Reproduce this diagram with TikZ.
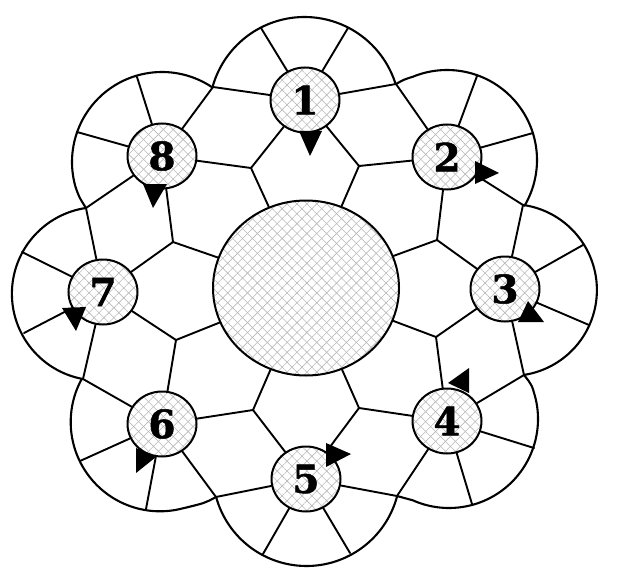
\documentclass[tikz,border=0pt]{standalone}
\usepackage{fontspec}
\newfontfamily\digitfont[BoldFont={DejaVu Serif Bold},BoldFeatures={FakeBold=1.3}]{DejaVu Serif}
\usetikzlibrary{patterns.meta,shapes.geometric}
\tikzset{
  hatched/.style={ellipse,draw=black,inner sep=0pt,line width=2pt,
    preaction={pattern={Lines[angle=45,distance=7pt,line width=.6pt]},pattern color=black!28},
    preaction={pattern={Lines[angle=-45,distance=7pt,line width=.6pt]},pattern color=black!28}},
  stationnode/.style={hatched,minimum width=69pt,minimum height=65pt,font=\fontsize{39}{39}\digitfont\bfseries},
  hubnode/.style={hatched,minimum width=186pt,minimum height=175pt},
  wire/.style={draw=black,line width=1.9pt,line join=round,line cap=round},
  rim/.style={wire,line width=2.1pt,samples=70},
  marker/.style={fill=black}
}
\begin{document}
\begin{tikzpicture}[x=1pt,y=-1pt]
\useasboundingbox (0,0) rectangle (620,580);
% inner junctions
\coordinate (a12) at (359,166); \coordinate (a23) at (437,240);
\coordinate (a34) at (436,337); \coordinate (a45) at (359,408);
\coordinate (a56) at (253,410); \coordinate (a67) at (176,340);
\coordinate (a78) at (173,242); \coordinate (a81) at (251,168);
% outer junctions
\coordinate (b12) at (396,84);  \coordinate (b23) at (523,205);
\coordinate (b34) at (524,375); \coordinate (b45) at (397,496);
\coordinate (b56) at (216,497); \coordinate (b67) at (83,379);
\coordinate (b78) at (86,208);  \coordinate (b81) at (213,87);
% spoke ends on the rim
\coordinate (r1a) at (261,28);  \coordinate (r1b) at (348,28);
\coordinate (r2a) at (477,76);  \coordinate (r2b) at (533,133);
\coordinate (r3a) at (583,245); \coordinate (r3b) at (589,325);
\coordinate (r4a) at (534,448); \coordinate (r4b) at (472,504);
\coordinate (r5a) at (350,553); \coordinate (r5b) at (263,554);
\coordinate (r6a) at (146,509); \coordinate (r6b) at (80,461);
\coordinate (r7a) at (24,333);  \coordinate (r7b) at (22,252);
\coordinate (r8a) at (77,132);  \coordinate (r8b) at (137,77);
% nodes
\node[hubnode] (hub) at (306,288) {};
\node[stationnode] (n1) at (305,100) {1};
\node[stationnode] (n2) at (447,157) {2};
\node[stationnode] (n3) at (505,289) {3};
\node[stationnode] (n4) at (447,421) {4};
\node[stationnode] (n5) at (306,479) {5};
\node[stationnode] (n6) at (162,424) {6};
\node[stationnode] (n7) at (103,292) {7};
\node[stationnode] (n8) at (162,156) {8};
% connectors
\foreach \i/\j in {1/2,2/3,3/4,4/5,5/6,6/7,7/8,8/1}{
  \draw[wire] (hub) -- (a\i\j);
  \draw[wire] (n\i) -- (a\i\j) -- (n\j);
  \draw[wire] (n\i) -- (b\i\j) -- (n\j);
}
\foreach \i in {1,...,8}{
  \draw[wire] (n\i) -- (r\i a);
  \draw[wire] (n\i) -- (r\i b);
}
% rim
\draw[rim] plot[domain=195.5:342.8] ({304.5+95.4*cos(\x)},{112.4+95.4*sin(\x)});
\draw[rim] (b12) .. controls (404,79.5) .. (413.3,76.6) -- plot[domain=-112:30.6] ({447+90*cos(\x)},{160+90*sin(\x)});
\draw[rim] plot[domain=-82:81.3] ({511+85.9*cos(\x)},{290+85.9*sin(\x)});
\draw[rim] (b34) .. controls (532,385) .. (535.7,399) -- plot[domain=-13:114] ({449+89*cos(\x)},{419+89*sin(\x)}) .. controls (405,499) .. (b45);
\draw[rim] plot[domain=14.7:164.7] ({306.5+93.7*cos(\x)},{472.3+93.7*sin(\x)});
\draw[rim] (b56) .. controls (205,503) .. (183.1,508.3) -- plot[domain=75:209] ({160+89.3*cos(\x)},{422+89.3*sin(\x)});
\draw[rim] plot[domain=100.4:261.6] ({98.6+86.7*cos(\x)},{293.75+86.7*sin(\x)});
\draw[rim] (b78) .. controls (79,197) .. (75.5,186.8) -- plot[domain=164:304] ({162+90*cos(\x)},{162+90*sin(\x)});
% direction markers
\fill[marker] (299,131) -- (322,131) -- (310,156) -- cycle;
\fill[marker] (475,161) -- (475,184) -- (499,173) -- cycle;
\fill[marker] (528,301) -- (544,322) -- (518,322) -- cycle;
\fill[marker] (469,368) -- (469,393) -- (448,383) -- cycle;
\fill[marker] (326,443) -- (326,467) -- (351,454) -- cycle;
\fill[marker] (136,448) -- (136,473) -- (156,457) -- cycle;
\fill[marker] (62,308) -- (86,307) -- (76,331) -- cycle;
\fill[marker] (143,184) -- (167,184) -- (153,208) -- cycle;
\end{tikzpicture}
\end{document}
